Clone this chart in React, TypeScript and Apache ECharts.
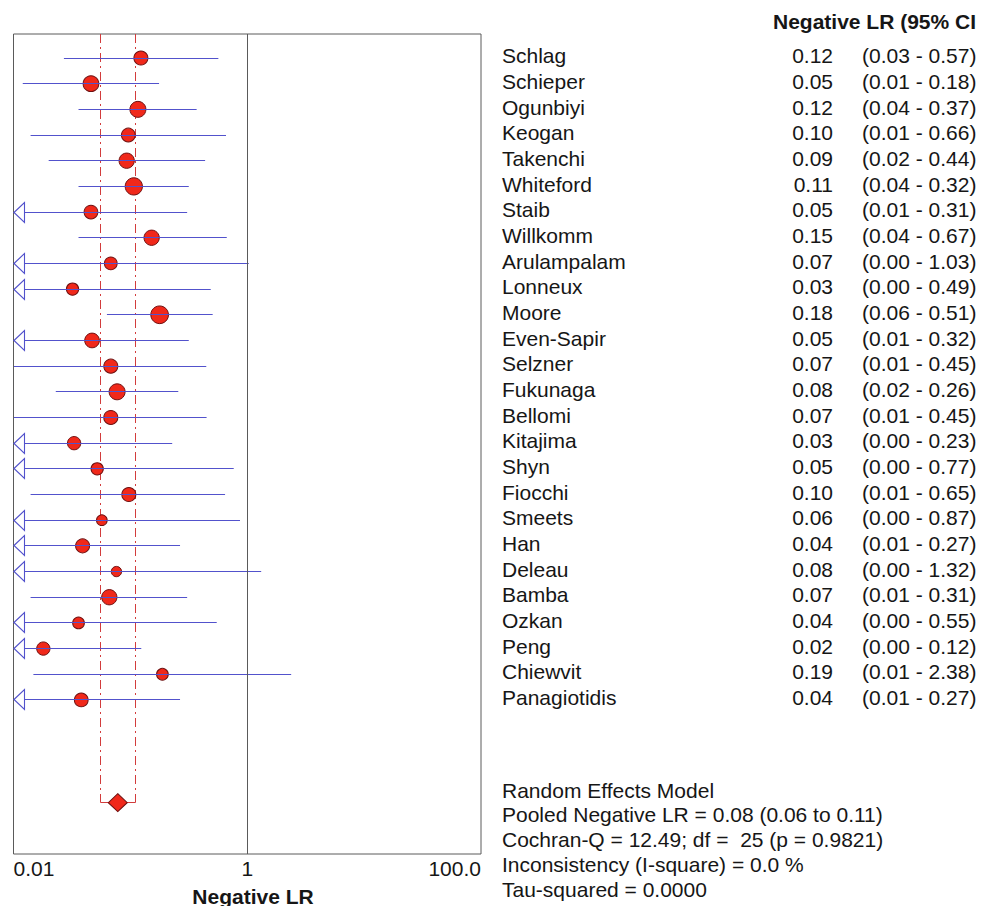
import React, { useEffect, useRef } from "react";
import * as echarts from "echarts";

// ---------------- data ----------------
const studies = [
  "Schlag", "Schieper", "Ogunbiyi", "Keogan", "Takenchi", "Whiteford", "Staib",
  "Willkomm", "Arulampalam", "Lonneux", "Moore", "Even-Sapir", "Selzner", "Fukunaga",
  "Bellomi", "Kitajima", "Shyn", "Fiocchi", "Smeets", "Han", "Deleau", "Bamba",
  "Ozkan", "Peng", "Chiewvit", "Panagiotidis",
];
const lr = [
  0.123, 0.046, 0.116, 0.096, 0.093, 0.107, 0.046, 0.152, 0.068, 0.032, 0.178, 0.047, 0.068,
  0.077, 0.068, 0.033, 0.052, 0.097, 0.057, 0.039, 0.076, 0.066, 0.036, 0.018, 0.188, 0.038,
];
const ciLow = [
  0.027, 0.012, 0.036, 0.014, 0.02, 0.036, 0.008, 0.036, 0.004, 0.004, 0.063, 0.008, 0.0101,
  0.023, 0.0101, 0.004, 0.004, 0.014, 0.004, 0.008, 0.004, 0.014, 0.004, 0.004, 0.0148, 0.008,
];
const ciHigh = [
  0.566, 0.176, 0.369, 0.658, 0.436, 0.316, 0.306, 0.668, 1.03, 0.487, 0.506, 0.316, 0.446,
  0.257, 0.449, 0.228, 0.766, 0.646, 0.867, 0.266, 1.316, 0.306, 0.548, 0.124, 2.376, 0.266,
];
const weightPct = [
  3.81, 4.78, 4.98, 3.66, 4.55, 5.81, 3.66, 4.55, 3.13, 2.94, 6.09, 4.2, 3.81,
  4.98, 3.81, 3.44, 2.94, 3.81, 2.22, 3.81, 2.06, 4.55, 2.66, 3.44, 2.66, 3.66,
];
const pooledLr = 0.078;
const pooledLow = 0.056;
const pooledHigh = 0.111;
const pooledRow = 29;
const cochranQ = 12.49;
const df = 25;
const pValue = 0.9821;
const iSquare = 0.0;
const tauSquared = 0.0;
const xTickValues = [0.01, 1, 100];
const xTickLabels = ["0.01", "1", "100.0"];
const xAxisTitle = "Negative LR";
const tableHeader = "Negative LR (95% CI";
const xMin = 0.01;
const xMax = 100;

// ---------------- styles ----------------
const FONT = '"Liberation Sans", Arial, Helvetica, sans-serif';
const TEXT = "#161616";
const BLUE = "#5252cc";
const RED = "#f0281a";
const RED_EDGE = "#6e1010";
const DASH_RED = "#d23c3c";
const FS = 21;

function txt(x: number, y: number, text: string, align: string, bold = false) {
  const font = `${bold ? "bold " : ""}${FS}px ${FONT}`;
  return {
    type: "text",
    x,
    y,
    silent: true,
    style: {
      text,
      font,
      fill: TEXT,
      align,
      verticalAlign: "middle",
      textAlign: align,
      textVerticalAlign: "middle",
    },
  };
}

const snap = (v: number) => Math.round(v - 0.5) + 0.5;

export default function App() {
  const ref = useRef<HTMLDivElement>(null);

  useEffect(() => {
    if (!ref.current) return;
    const chart = echarts.init(ref.current, null, { renderer: "svg" });
    const rows = studies.map((_, i) => i);

    const option: any = {
      animation: false,
      backgroundColor: "#ffffff",
      grid: {
        left: 13.5,
        right: 513,
        top: 34,
        bottom: 52,
        show: true,
        borderColor: "#5a5a5a",
        borderWidth: 1,
        backgroundColor: "transparent",
        containLabel: false,
        outerBoundsMode: "none",
      },
      xAxis: {
        type: "log",
        logBase: 10,
        min: xMin,
        max: xMax,
        axisLine: { show: false },
        axisTick: { show: false },
        splitLine: { show: false },
        axisLabel: {
          fontSize: FS,
          fontFamily: FONT,
          color: TEXT,
          margin: 14,
          verticalAlign: "middle",
          alignMinLabel: "left",
          alignMaxLabel: "right",
          showMinLabel: true,
          showMaxLabel: true,
          formatter: (v: number) => {
            const k = xTickValues.findIndex((t) => Math.abs(Math.log10(t) - Math.log10(v)) < 1e-6);
            return k >= 0 ? xTickLabels[k] : "";
          },
        },
      },
      yAxis: {
        type: "value",
        inverse: true,
        min: -0.935,
        max: 31,
        show: false,
      },
      graphic: [
        txt(773, 21, tableHeader, "left", true),
        txt(253, 896, xAxisTitle, "center", true),
        txt(502, 790, "Random Effects Model", "left"),
        txt(
          502,
          814.5,
          `Pooled Negative LR = ${pooledLr.toFixed(2)} (${pooledLow.toFixed(2)} to ${pooledHigh.toFixed(2)})`,
          "left"
        ),
        txt(
          502,
          839.3,
          `Cochran-Q = ${cochranQ.toFixed(2)}; df =  ${df} (p = ${pValue.toFixed(4)})`,
          "left"
        ),
        txt(502, 864, `Inconsistency (I-square) = ${iSquare.toFixed(1)} %`, "left"),
        txt(502, 889, `Tau-squared = ${tauSquared.toFixed(4)}`, "left"),
      ],
      series: [
        // pooled confidence band (dash-dot verticals + bracket)
        {
          type: "custom",
          name: "pooledCI",
          silent: true,
          z: 1,
          encode: { x: [0, 1], y: 2 },
          data: [[pooledLow, pooledHigh, pooledRow]],
          renderItem: (params: any, api: any) => {
            const lo = api.value(0);
            const hi = api.value(1);
            const row = api.value(2);
            const top = api.coord([lo, -0.935])[1];
            const a = api.coord([lo, row]);
            const b = api.coord([hi, row]);
            const xa = snap(a[0]);
            const xb = snap(b[0]);
            const yr = snap(a[1]);
            const dash = { stroke: DASH_RED, lineWidth: 1, lineDash: [9, 4, 2, 4], fill: null };
            const solid = { stroke: DASH_RED, lineWidth: 1, fill: null };
            return {
              type: "group",
              children: [
                { type: "line", shape: { x1: xa, y1: top, x2: xa, y2: yr }, style: dash },
                { type: "line", shape: { x1: xb, y1: top, x2: xb, y2: yr }, style: dash },
                { type: "line", shape: { x1: xa, y1: yr, x2: xb, y2: yr }, style: solid },
              ],
            };
          },
        },
        // study point estimates + reference line at 1
        {
          type: "scatter",
          name: "studies",
          z: 2,
          symbol: "circle",
          symbolSize: (val: number[]) => Math.sqrt(val[2]) * 7.17,
          itemStyle: { color: RED, borderColor: RED_EDGE, borderWidth: 1, opacity: 1 },
          data: rows.map((i) => [lr[i], i, weightPct[i]]),
          markLine: {
            silent: true,
            symbol: "none",
            label: { show: false },
            lineStyle: { color: "#5a5a5a", width: 1, type: "solid" },
            data: [{ xAxis: 1 }],
          },
        },
        // confidence intervals
        {
          type: "custom",
          name: "ci",
          silent: true,
          z: 3,
          encode: { x: [0, 1], y: 2 },
          data: rows.map((i) => [ciLow[i], ciHigh[i], i]),
          renderItem: (params: any, api: any) => {
            const lo = api.value(0);
            const hi = api.value(1);
            const row = api.value(2);
            const left = api.coord([xMin, row]);
            const p1 = api.coord([Math.max(lo, xMin), row]);
            const p2 = api.coord([hi, row]);
            const y0 = snap(p1[1]);
            const children: any[] = [
              {
                type: "line",
                shape: { x1: p1[0], y1: y0, x2: p2[0], y2: y0 },
                style: { stroke: BLUE, lineWidth: 1 },
              },
            ];
            if (lo < xMin) {
              const x0 = left[0] + 0.5;
              children.push({
                type: "polygon",
                shape: { points: [[x0, y0], [x0 + 10.5, y0 - 10], [x0 + 10.5, y0 + 10]] },
                style: { fill: "#ffffff", stroke: BLUE, lineWidth: 1.1 },
              });
            }
            return { type: "group", children };
          },
        },
        // pooled diamond
        {
          type: "scatter",
          name: "pooled",
          z: 4,
          symbol: "diamond",
          symbolSize: [19, 18],
          itemStyle: { color: RED, borderColor: RED_EDGE, borderWidth: 1, opacity: 1 },
          data: [[pooledLr, pooledRow]],
        },
        // right-hand table
        {
          type: "custom",
          name: "table",
          silent: true,
          clip: false,
          z: 5,
          encode: { x: 0, y: 1 },
          data: rows.map((i) => [lr[i], i]),
          renderItem: (params: any, api: any) => {
            const i = params.dataIndex;
            const y = api.coord([1, api.value(1)])[1] - 2.3;
            return {
              type: "group",
              children: [
                txt(502, y, studies[i], "left"),
                txt(833, y, lr[i].toFixed(2), "right"),
                txt(862, y, `(${ciLow[i].toFixed(2)} - ${ciHigh[i].toFixed(2)})`, "left"),
              ],
            };
          },
        },
      ],
    };

    chart.setOption(option);
    return () => chart.dispose();
  }, []);

  return (
    <div
      ref={ref}
      style={{ position: "absolute", left: 0, top: 0, width: 994, height: 906, background: "#fff" }}
    />
  );
}
